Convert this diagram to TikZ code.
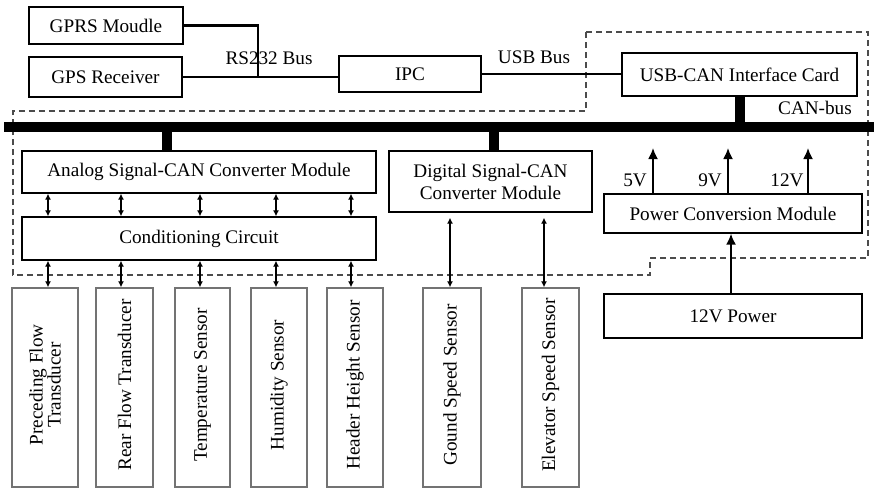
\documentclass[tikz,border=0pt]{standalone}
\usepackage{fontspec}
\setmainfont{Liberation Serif}
\usetikzlibrary{arrows.meta}
\begin{document}
\begin{tikzpicture}[x=1pt,y=-1pt,
  font=\fontsize{19.2}{18}\selectfont,
  box/.style={draw=black,line width=1.3pt,inner sep=0pt,align=center},
  sensor/.style={draw=black!55,line width=1.4pt,inner sep=0pt,minimum height=199pt},
  vtext/.style={rotate=90,align=center},
  wire/.style={line width=2.6pt},
  tap/.style={line width=10pt},
  dbl/.style={line width=1.3pt,{Latex[length=6pt,width=6pt]}-{Latex[length=6pt,width=6pt]}},
  pwr/.style={line width=1.8pt,-{Latex[length=11pt,width=10pt]}},
  dashline/.style={draw=black!70,line width=1.5pt,dash pattern=on 6pt off 4pt},
  lbl/.style={inner sep=0pt}]
\useasboundingbox (0,0) rectangle (874,488);

% dashed region
\draw[dashline] (586,32) -- (868,32) -- (868,258) -- (650,258) -- (650,275) -- (13,275) -- (13,111) -- (586,111) -- cycle;

% top boxes
\node[box,minimum width=154pt,minimum height=37pt] (gprs) at (106,25.5) {GPRS Moudle};
\node[box,minimum width=153pt,minimum height=40pt] (gps) at (105.5,77) {GPS Receiver};
\node[box,minimum width=142pt,minimum height=36pt] (ipc) at (410,74) {IPC};
\node[box,minimum width=235pt,minimum height=43pt] (usbcan) at (739.5,74.5) {USB-CAN Interface Card};

% middle boxes
\node[box,minimum width=354pt,minimum height=42pt] (analog) at (199,172) {Analog Signal-CAN Converter Module};
\node[box,minimum width=354pt,minimum height=43pt] (cond) at (199,238.5) {Conditioning Circuit};
\node[box,minimum width=203pt,minimum height=61pt,font=\fontsize{19.2}{22}\selectfont] (digital) at (490.5,181.5) {Digital Signal-CAN\\Converter Module};
\node[box,minimum width=258pt,minimum height=39pt] (power) at (733,213.5) {Power Conversion Module};
\node[box,minimum width=258pt,minimum height=44pt] (pw12) at (733,316) {12V Power};

% sensors
\node[sensor,minimum width=66pt] (s1) at (45,387.5) {};
\node[sensor,minimum width=57pt] (s2) at (124.5,387.5) {};
\node[sensor,minimum width=55pt] (s3) at (202.5,387.5) {};
\node[sensor,minimum width=56pt] (s4) at (279,387.5) {};
\node[sensor,minimum width=56pt] (s5) at (355,387.5) {};
\node[sensor,minimum width=58pt] (s6) at (452,387.5) {};
\node[sensor,minimum width=57pt] (s7) at (550.5,387.5) {};
\node[vtext] (t1) at ([yshift=2.5pt]s1.center) {Preceding Flow\\Transducer};
\node[vtext] (t2) at ([yshift=2.5pt]s2.center) {Rear Flow Transducer};
\node[vtext] (t3) at ([yshift=2.5pt]s3.center) {Temperature Sensor};
\node[vtext] (t4) at ([yshift=2.5pt]s4.center) {Humidity Sensor};
\node[vtext] (t5) at ([yshift=2.5pt]s5.center) {Header Height Sensor};
\node[vtext] (t6) at ([yshift=2.5pt]s6.center) {Gound Speed Sensor};
\node[vtext] (t7) at ([yshift=2.5pt]s7.center) {Elevator Speed Sensor};

% RS232 / USB links
\coordinate (j1) at (258,0);
\draw[wire] (gprs.east) -| (gps.east -| j1);
\draw[wire] (gps.east) -- (gps.east -| ipc.west);
\draw[wire] (ipc.east) -- (ipc.east -| usbcan.west);
\node[lbl] (l232) at (269,58) {RS232 Bus};
\node[lbl] (lusb) at (534,57) {USB Bus};

% CAN bus
\coordinate (busL) at (4,127);
\coordinate (busR) at (874,127);
\draw[tap] (busL) -- (busR);
\coordinate (tA) at (167,127);
\coordinate (tD) at (494,127);
\coordinate (tU) at (740,127);
\draw[tap] (analog.north -| tA) -- (tA);
\draw[tap] (digital.north -| tD) -- (tD);
\draw[tap] (usbcan.south -| tU) -- (tU);
\node[lbl] (lcan) at (815,108) {CAN-bus};

% analog arrows
\coordinate (a1) at (48,0);
\coordinate (a2) at (121,0);
\coordinate (a3) at (200,0);
\coordinate (a4) at (276,0);
\coordinate (a5) at (351,0);
\foreach \i in {1,...,5}{
  \draw[dbl] (analog.south -| a\i) -- (cond.north -| a\i);
  \draw[dbl] (cond.south -| a\i) -- (s\i.north -| a\i);
}

% digital arrows
\coordinate (d1) at (450,0);
\coordinate (d2) at (544,0);
\draw[dbl,shorten <=5pt] (digital.south -| d1) -- (s6.north -| d1);
\draw[dbl,shorten <=5pt] (digital.south -| d2) -- (s7.north -| d2);

% power arrows
\coordinate (p1) at (653,148);
\coordinate (p2) at (728,148);
\coordinate (p3) at (808,148);
\draw[pwr] (power.north -| p1) -- (p1);
\draw[pwr] (power.north -| p2) -- (p2);
\draw[pwr] (power.north -| p3) -- (p3);
\node[lbl] (l5) at (635,180) {5V};
\node[lbl] (l9) at (710,180) {9V};
\node[lbl] (l12) at (787,180) {12V};
\coordinate (pin) at (731,0);
\draw[pwr] (pw12.north -| pin) -- (power.south -| pin);
\end{tikzpicture}
\end{document}
